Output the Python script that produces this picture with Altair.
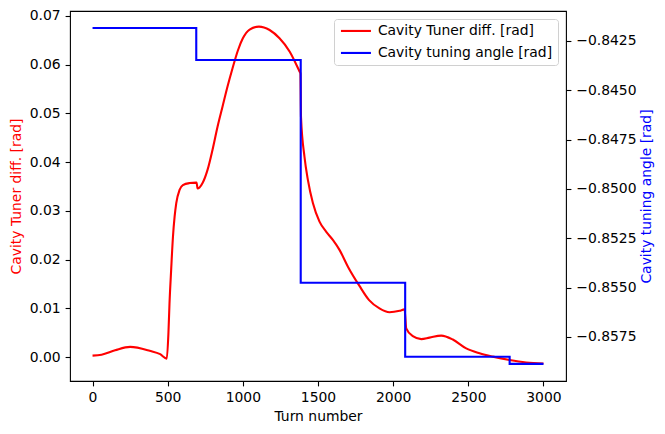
import altair as alt
import pandas as pd

# Tuner difference (left axis), sampled along the turn number
turns_red = [0, 60, 150, 250, 380, 450, 494, 505, 512, 523, 535, 546, 557, 579,
             601, 645, 688, 692, 699, 712, 732, 765, 798, 832, 865, 898, 931,
             967, 1000, 1045, 1107, 1178, 1244, 1311, 1377, 1383, 1387, 1410,
             1433, 1466, 1510, 1555, 1600, 1643, 1700, 1776, 1840, 1909, 1976,
             2043, 2076, 2087, 2131, 2187, 2242, 2320, 2397, 2486, 2575, 2663,
             2774, 2885, 3000]
tuner_diff = [0.0003, 0.0005, 0.0014, 0.0021, 0.0013, 0.0006, -0.0003, 0.0050,
              0.0110, 0.0179, 0.0247, 0.0288, 0.0316, 0.0343, 0.0353, 0.0357,
              0.0358, 0.0358, 0.0346, 0.0348, 0.0357, 0.0384, 0.0425, 0.0473,
              0.0514, 0.0555, 0.0592, 0.0629, 0.0654, 0.0672, 0.0678, 0.0671,
              0.0654, 0.0627, 0.0586, 0.0582, 0.0492, 0.0411, 0.0363, 0.0316,
              0.0278, 0.0257, 0.0240, 0.0220, 0.0185, 0.0146, 0.0117, 0.0100,
              0.0092, 0.0095, 0.0098, 0.0059, 0.0043, 0.0037, 0.0040, 0.0044,
              0.0036, 0.0018, 0.0008, 0.0001, -0.0006, -0.0011, -0.0013]

# Tuning angle (right axis), piecewise constant between updates
step_turns = [0, 690, 1385, 2080, 2775, 3000]
tuning_angle = [-0.84184, -0.84346, -0.85475, -0.85850, -0.85886, -0.85886]

x_ticks = [0, 500, 1000, 1500, 2000, 2500, 3000]
left_ticks = [0.00, 0.01, 0.02, 0.03, 0.04, 0.05, 0.06, 0.07]
right_ticks = [-0.8575, -0.8550, -0.8525, -0.8500, -0.8475, -0.8450, -0.8425]

red_name = "Cavity Tuner diff. [rad]"
blue_name = "Cavity tuning angle [rad]"

df_red = pd.DataFrame({"turn": turns_red, "value": tuner_diff, "series": red_name})
df_blue = pd.DataFrame({"turn": step_turns, "value": tuning_angle, "series": blue_name})

FONT = "DejaVu Sans"
FS = 13.9
W, H = 496, 370

color = alt.Color(
    "series:N",
    scale=alt.Scale(domain=[red_name, blue_name], range=["red", "blue"]),
    legend=alt.Legend(
        title=None, orient="none", legendX=264, legendY=8,
        # short horizontal stroke as the legend key
        symbolType="M-1,0L5,0", symbolSize=100, symbolStrokeWidth=2.1,
        labelFontSize=FS, labelFont=FONT, labelColor="black", labelOffset=25,
        labelLimit=0, padding=5, rowPadding=7, strokeColor="#d0d0d0",
        fillColor="white", cornerRadius=3,
    ),
)

x = alt.X(
    "turn:Q",
    scale=alt.Scale(domain=[-150, 3150], nice=False, zero=False),
    axis=alt.Axis(values=x_ticks, format="d", title="Turn number",
                  titleX=W / 2, titleY=35, titleBaseline="middle",
                  titleAlign="center"),
)

red_line = alt.Chart(df_red).mark_line(strokeWidth=2.1, interpolate="monotone").encode(
    x=x,
    y=alt.Y(
        "value:Q",
        scale=alt.Scale(domain=[-0.0049, 0.0710], nice=False, zero=False),
        axis=alt.Axis(values=left_ticks, format=".2f", title=red_name,
                      titleColor="red", titleX=-54, titleY=H / 2,
                      titleAngle=270, titleBaseline="middle", titleAlign="center"),
    ),
    color=color,
)

blue_line = alt.Chart(df_blue).mark_line(strokeWidth=2.1, interpolate="step-after").encode(
    x=x,
    y=alt.Y(
        "value:Q",
        scale=alt.Scale(domain=[-0.85973, -0.84098], nice=False, zero=False),
        axis=alt.Axis(values=right_ticks, format=".4f", title=blue_name,
                      orient="right", titleColor="blue", titleX=80, titleY=H / 2,
                      titleAngle=270, titleBaseline="middle", titleAlign="center"),
    ),
    color=color,
)

chart = (
    alt.layer(red_line, blue_line)
    .resolve_scale(y="independent")
    .properties(width=W, height=H, autosize=alt.AutoSizeParams(type="none"),
                padding={"left": 70, "top": 11, "right": 99, "bottom": 53})
    .configure(background="white")
    .configure_view(stroke="black", strokeWidth=1.1)
    .configure_axis(
        grid=False, domain=False, tickColor="black", tickSize=4.9, tickWidth=1.1,
        labelFont=FONT, labelFontSize=FS, labelColor="black", labelPadding=4.9,
        titleFont=FONT, titleFontSize=FS, titleFontWeight="normal",
        titleColor="black",
    )
)

chart.save("out.html", embed_options={"renderer": "svg", "actions": False})
